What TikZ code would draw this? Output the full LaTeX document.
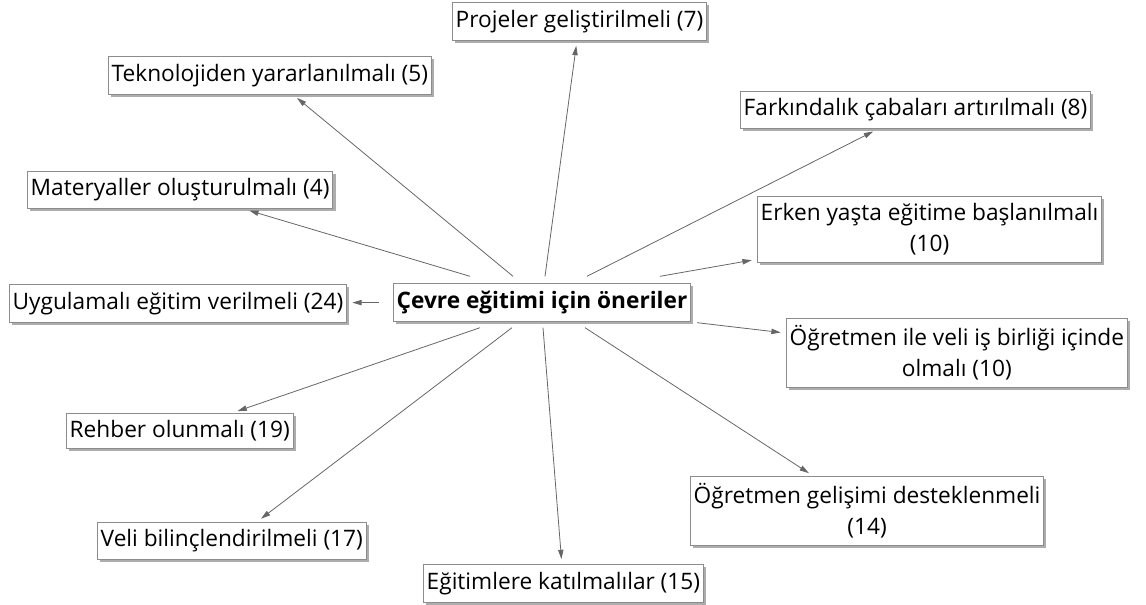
\documentclass[tikz,border=0pt]{standalone}
\usepackage{fontspec}
\setmainfont{Open Sans}
\usetikzlibrary{arrows.meta,shadows,calc}

\tikzset{every picture/.style={line width=0.75pt}}
\tikzset{
  idea/.style={draw=black!45, fill=white, line width=0.6pt, inner xsep=2.5pt, inner ysep=5.5pt,
    align=center, font=\fontsize{17}{23}\selectfont,
    drop shadow={shadow xshift=2pt, shadow yshift=-2pt, fill=black!40, opacity=0.8}},
  rootbox/.style={idea, font=\fontsize{17}{23}\selectfont\bfseries},
  link/.style={draw=black!60, line width=0.6pt, -{Triangle[length=7pt,width=4pt]}, shorten >=4pt}
}

\begin{document}
\begin{tikzpicture}[x=0.75pt,y=0.75pt,yscale=-1,xscale=1]
\useasboundingbox (0,0) rectangle (1146,605);

% main idea and the suggestions round it
\draw (542,302.5) node [rootbox] (root) {Çevre eğitimi için öneriler};
\draw (452,21.5) node [idea, anchor=west] (proje) {Projeler geliştirilmeli (7)};
\draw (108,75.5) node [idea, anchor=west] (tekno) {Teknolojiden yararlanılmalı (5)};
\draw (740,110) node [idea, anchor=west] (farkin) {Farkındalık çabaları artırılmalı (8)};
\draw (27,190) node [idea, anchor=west] (mater) {Materyaller oluşturulmalı (4)};
\draw (757,229) node [idea, anchor=west] (erken) {Erken yaşta eğitime başlanılmalı\\(10)};
\draw (9,303.5) node [idea, anchor=west] (uygula) {Uygulamalı eğitim verilmeli (24)};
\draw (786,353) node [idea, anchor=west] (isbir) {Öğretmen ile veli iş birliği içinde\\olmalı (10)};
\draw (66,431) node [idea, anchor=west] (rehber) {Rehber olunmalı (19)};
\draw (690,511) node [idea, anchor=west] (gelis) {Öğretmen gelişimi desteklenmeli\\(14)};
\draw (97,541) node [idea, anchor=west] (veli) {Veli bilinçlendirilmeli (17)};
\draw (423,583.5) node [idea, anchor=west] (egitim) {Eğitimlere katılmalılar (15)};

% links
\draw [link] ($(root.north)+(3,-7)$) -- (proje);
\draw [link] ($(root.north)+(-29,-7)$) -- (tekno);
\draw [link] ($(root.north)+(-72,-7)$) -- (mater);
\draw [link] ($(root.north)+(45,-7)$) -- (farkin);
\draw [link] ($(root.north)+(118,-7)$) -- (erken);
\draw [link] ($(root.west)+(-14,0)$) -- (uygula);
\draw [link] ($(root.south east)+(6,1)$) -- (isbir);
\draw [link] ($(root.south)+(-62,6)$) -- (rehber);
\draw [link] ($(root.south)+(-30,6)$) -- (veli);
\draw [link] ($(root.south)+(1,6)$) -- (egitim);
\draw [link] ($(root.south)+(43,6)$) -- (gelis);

\end{tikzpicture}
\end{document}
